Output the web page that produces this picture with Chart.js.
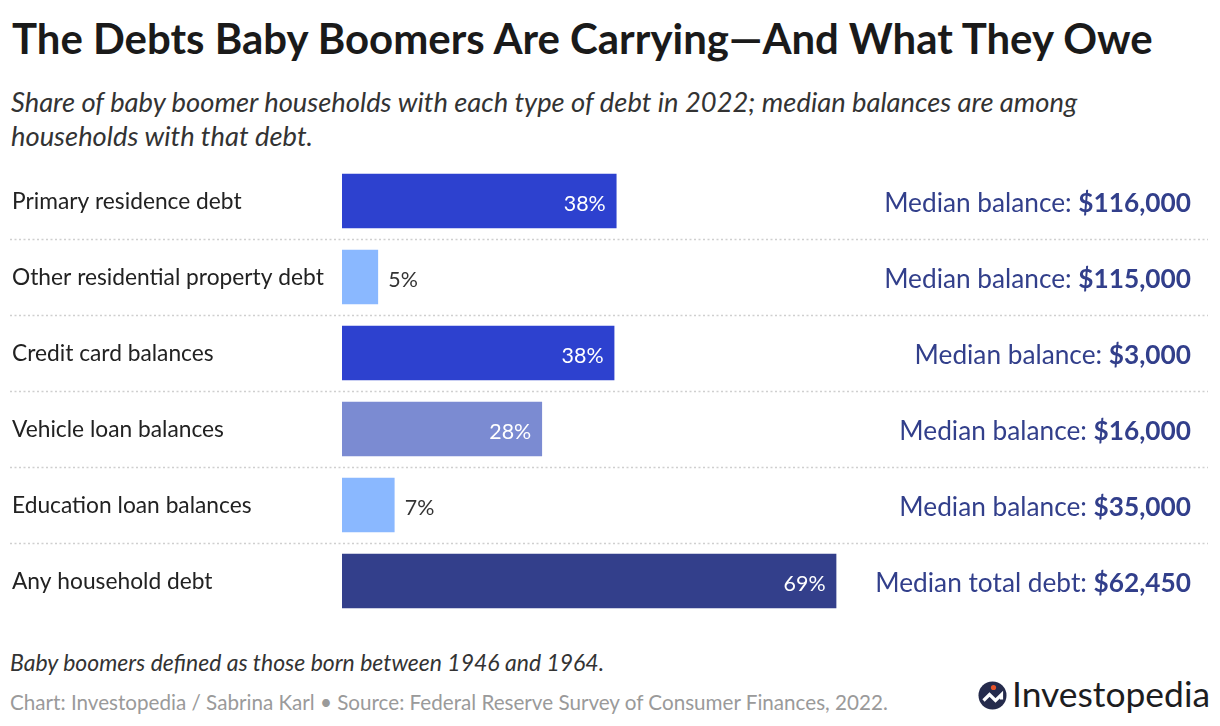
<!DOCTYPE html>
<html>
<head>
<meta charset="utf-8">
<script src="https://cdn.jsdelivr.net/npm/chart.js@4.4.1/dist/chart.umd.min.js"></script>
<style>
  html, body { margin: 0; padding: 0; background: #ffffff; }
  #wrap { position: relative; width: 1220px; height: 726px; overflow: hidden; font-family: Lato, "Noto Sans", sans-serif; }
  .t { position: absolute; white-space: nowrap; line-height: 1.2; }
  #chart { position: absolute; left: 0; top: 163px; }
</style>
</head>
<body>
<div id="wrap">
  <div class="t" id="title" style="font-weight:700;color:#1a1a1a;">The Debts Baby Boomers Are Carrying—And What They Owe</div>
  <div class="t" id="sub1" style="font-style:italic;color:#333333;">Share of baby boomer households with each type of debt in 2022; median balances are among</div>
  <div class="t" id="sub2" style="font-style:italic;color:#333333;">households with that debt.</div>
  <canvas id="chart" width="1220" height="456" style="width:1220px;height:456px;"></canvas>
  <div class="t" id="note" style="font-style:italic;color:#333333;">Baby boomers defined as those born between 1946 and 1964.</div>
  <div class="t" id="source" style="color:#9a9a9a;">Chart: Investopedia / Sabrina Karl • Source: Federal Reserve Survey of Consumer Finances, 2022.</div>
  <svg id="logoIcon" style="position:absolute;left:978px;top:681px;" width="29" height="29" viewBox="-14.5 -14.5 29 29">
    <circle cx="0" cy="0" r="14" fill="#252b4c"/>
    <path d="M-9 5 L-3 -1 L3 5 L9 -1 L9 4" fill="none" stroke="#ffffff" stroke-width="3.2" stroke-linejoin="miter"/>
    <circle cx="1" cy="-8" r="2.6" fill="#e8542a"/>
  </svg>
  <div class="t" id="logoText" style="color:#1d1d1f;">Investopedia</div>
</div>
<script>
// ---------- data ----------
const categories = [
  'Primary residence debt',
  'Other residential property debt',
  'Credit card balances',
  'Vehicle loan balances',
  'Education loan balances',
  'Any household debt'
];
const shares = [38.3, 5.0, 38.0, 27.9, 7.3, 69.0];
const balancePrefixes = [
  'Median balance:', 'Median balance:', 'Median balance:',
  'Median balance:', 'Median balance:', 'Median total debt:'
];
const balances = [116000, 115000, 3000, 16000, 35000, 62450];

// ---------- styles ----------
const barColors = ['#2d41cf', '#8ab8ff', '#2d41cf', '#7b8bd2', '#8ab8ff', '#333f8b'];
const FAMILY = 'Lato, "Noto Sans", sans-serif';

const mctx = document.createElement('canvas').getContext('2d');
function widthAt100(text, weight, style) {
  mctx.font = `${style || 'normal'} ${weight || 400} 100px ${FAMILY}`;
  return mctx.measureText(text).width;
}
function fit(text, weight, style, target) {
  return 100 * target / widthAt100(text, weight, style);
}

// ---------- HTML text placement ----------
function place(id, left, baseline, size) {
  const el = document.getElementById(id);
  el.style.fontSize = size + 'px';
  el.style.left = left + 'px';
  el.style.top = '0px';
  const m = document.createElement('span');
  m.style.display = 'inline-block';
  m.style.width = '0px';
  m.style.height = '0px';
  m.style.verticalAlign = 'baseline';
  el.appendChild(m);
  const off = m.offsetTop;
  el.removeChild(m);
  el.style.top = (baseline - off) + 'px';
}
const titleSize = fit(document.getElementById('title').textContent, 700, 'normal', 1146);
place('title', 12, 54, titleSize);
const subSize = fit(document.getElementById('sub1').textContent, 400, 'italic', 1069);
place('sub1', 11, 112, subSize);
place('sub2', 11, 146, subSize);
const noteSize = fit(document.getElementById('note').textContent, 400, 'italic', 595);
place('note', 10, 671, noteSize);
const srcSize = fit(document.getElementById('source').textContent, 400, 'normal', 880);
place('source', 10, 710, srcSize);
const logoSize = fit('Investopedia', 400, 'normal', 198);
place('logoText', 1012, 707, logoSize);

// ---------- chart ----------
const catSize = fit('Other residential property debt', 400, 'normal', 312);
const valSize = fit('38%', 400, 'normal', 42);
const fmt = v => '$' + v.toLocaleString('en-US');
const rightPrefixW = widthAt100('Median balance: ', 400, 'normal');
const rightValW = widthAt100(fmt(116000), 700, 'normal');
const rightSize = 100 * 307 / (rightPrefixW + rightValW);

function capHeight(ctx) {
  return ctx.measureText('H').actualBoundingBoxAscent;
}

const overlay = {
  id: 'overlay',
  beforeDatasetsDraw(chart) {
    const ctx = chart.ctx;
    const y = chart.scales.y;
    ctx.save();
    // dotted row separators
    ctx.strokeStyle = '#cfcfcf';
    ctx.lineWidth = 1.5;
    ctx.setLineDash([2, 2.5]);
    for (let i = 1; i < categories.length; i++) {
      const yy = Math.round((y.getPixelForValue(i - 1) + y.getPixelForValue(i)) / 2) + 0.5;
      ctx.beginPath();
      ctx.moveTo(10, yy);
      ctx.lineTo(1208, yy);
      ctx.stroke();
    }
    ctx.setLineDash([]);
    // category labels, positioned by the y scale
    ctx.font = `400 ${catSize}px ${FAMILY}`;
    const ch = capHeight(ctx);
    ctx.fillStyle = '#222222';
    ctx.textAlign = 'left';
    ctx.textBaseline = 'alphabetic';
    categories.forEach((c, i) => {
      const yc = y.getPixelForValue(i);
      ctx.fillText(c, 12, yc - 0.5 + ch / 2);
    });
    ctx.restore();
  },
  afterDatasetsDraw(chart) {
    const ctx = chart.ctx;
    const meta = chart.getDatasetMeta(0);
    ctx.save();
    ctx.textBaseline = 'alphabetic';
    meta.data.forEach((bar, i) => {
      const yc = bar.y;
      // value label
      ctx.font = `400 ${valSize}px ${FAMILY}`;
      const ch = capHeight(ctx);
      const label = Math.round(shares[i]) + '%';
      const base = yc + 2 + ch / 2;
      if (shares[i] >= 15) {
        ctx.fillStyle = '#ffffff';
        ctx.textAlign = 'right';
        ctx.fillText(label, bar.x - 10.5, base);
      } else {
        ctx.fillStyle = '#333333';
        ctx.textAlign = 'left';
        ctx.fillText(label, bar.x + 10.5, base);
      }
      // right-hand median text
      const valText = fmt(balances[i]);
      ctx.font = `700 ${rightSize}px ${FAMILY}`;
      const vw = ctx.measureText(valText).width;
      const rch = capHeight(ctx);
      const rb = yc + 1.5 + rch / 2;
      ctx.fillStyle = '#323f8b';
      ctx.textAlign = 'right';
      ctx.fillText(valText, 1191, rb);
      ctx.font = `400 ${rightSize}px ${FAMILY}`;
      ctx.fillText(balancePrefixes[i] + ' ', 1191 - vw, rb);
    });
    ctx.restore();
  }
};

new Chart(document.getElementById('chart'), {
  type: 'bar',
  data: {
    labels: categories,
    datasets: [{
      data: shares,
      backgroundColor: barColors,
      borderWidth: 0,
      barThickness: 54
    }]
  },
  options: {
    indexAxis: 'y',
    responsive: false,
    animation: false,
    devicePixelRatio: 1,
    layout: { padding: { left: 12, right: 162, top: 0, bottom: 0 } },
    plugins: { legend: { display: false }, tooltip: { enabled: false }, title: { display: false } },
    scales: {
      x: { min: 0, max: 100, display: false },
      y: {
        grid: { display: false },
        border: { display: false },
        ticks: { display: false },
        afterFit(scale) { scale.width = 330; }
      }
    }
  },
  plugins: [overlay]
});
</script>
</body>
</html>
